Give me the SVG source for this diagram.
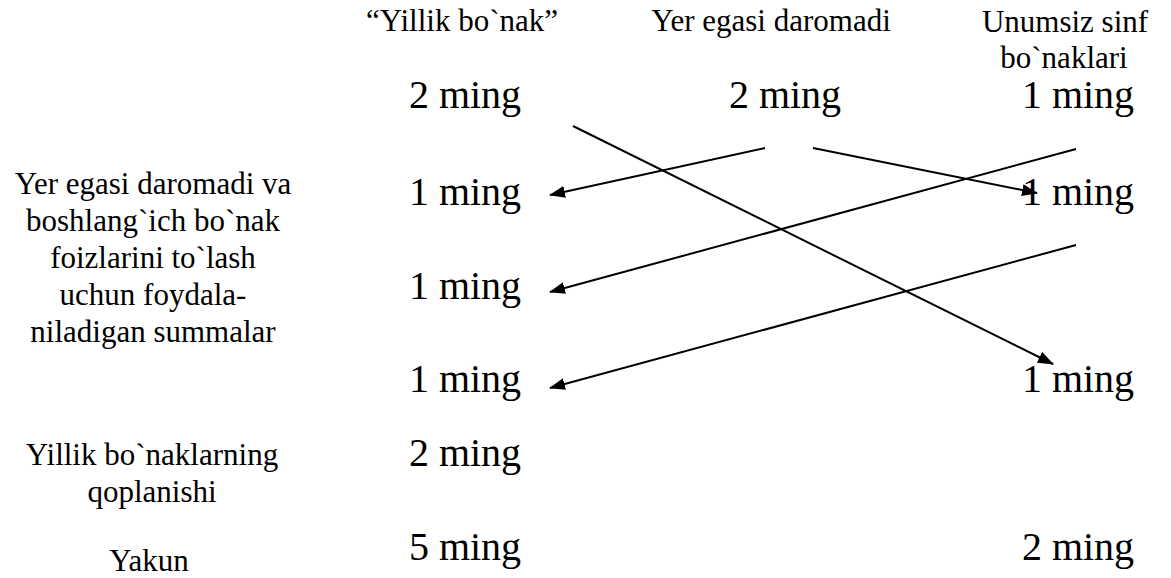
<svg xmlns="http://www.w3.org/2000/svg" width="1171" height="578" viewBox="0 0 1171 578">
<defs>
<style>
text{font-family:"Liberation Serif","Times New Roman",serif;fill:#000;text-anchor:middle}
.h{font-size:31px}
.n{font-size:40px}
.c{stroke:#000;stroke-width:2;fill:none}
</style>
<marker id="ah" markerWidth="16" markerHeight="12" refX="15" refY="6" orient="auto" markerUnits="userSpaceOnUse">
<path d="M0,0 L16,6 L0,12 Z" fill="#000"/>
</marker>
</defs>
<rect width="1171" height="578" fill="#fff"/>
<g id="header-yillik"><text class="h" x="462" y="31">“Yillik bo`nak”</text></g>
<g id="header-yer"><text class="h" x="771" y="31">Yer egasi daromadi</text></g>
<g id="header-unumsiz"><text class="h" x="1065" y="32">Unumsiz sinf</text><text class="h" x="1064" y="68">bo`naklari</text></g>
<g id="label-sums"><text class="h" x="153" y="194">Yer egasi daromadi va</text><text class="h" x="153" y="231">boshlang`ich bo`nak</text><text class="h" x="153" y="268">foizlarini to`lash</text><text class="h" x="153" y="305">uchun foydala-</text><text class="h" x="153" y="342">niladigan summalar</text></g>
<g id="label-yillik"><text class="h" x="152" y="465">Yillik bo`naklarning</text><text class="h" x="152" y="502">qoplanishi</text></g>
<g id="label-yakun"><text class="h" x="149" y="571">Yakun</text></g>
<g id="v-r1c1"><text class="n" x="465" y="108">2 ming</text></g>
<g id="v-r1c2"><text class="n" x="785" y="108">2 ming</text></g>
<g id="v-r1c3"><text class="n" x="1078" y="108">1 ming</text></g>
<g id="v-r2c1"><text class="n" x="465" y="205">1 ming</text></g>
<g id="v-r2c3"><text class="n" x="1078" y="205">1 ming</text></g>
<g id="v-r3c1"><text class="n" x="465" y="299">1 ming</text></g>
<g id="v-r4c1"><text class="n" x="465" y="392">1 ming</text></g>
<g id="v-r4c3"><text class="n" x="1078" y="392">1 ming</text></g>
<g id="v-r5c1"><text class="n" x="465" y="466">2 ming</text></g>
<g id="v-r6c1"><text class="n" x="465" y="560">5 ming</text></g>
<g id="v-r6c3"><text class="n" x="1078" y="560">2 ming</text></g>
<g id="connectors">
<line class="c" x1="573" y1="126" x2="1053" y2="364" marker-end="url(#ah)"/>
<line class="c" x1="765" y1="148" x2="550" y2="195" marker-end="url(#ah)"/>
<line class="c" x1="813" y1="148" x2="1037" y2="193" marker-end="url(#ah)"/>
<line class="c" x1="1076" y1="149" x2="550" y2="292" marker-end="url(#ah)"/>
<line class="c" x1="1076" y1="245" x2="550" y2="388" marker-end="url(#ah)"/>
</g>
</svg>
